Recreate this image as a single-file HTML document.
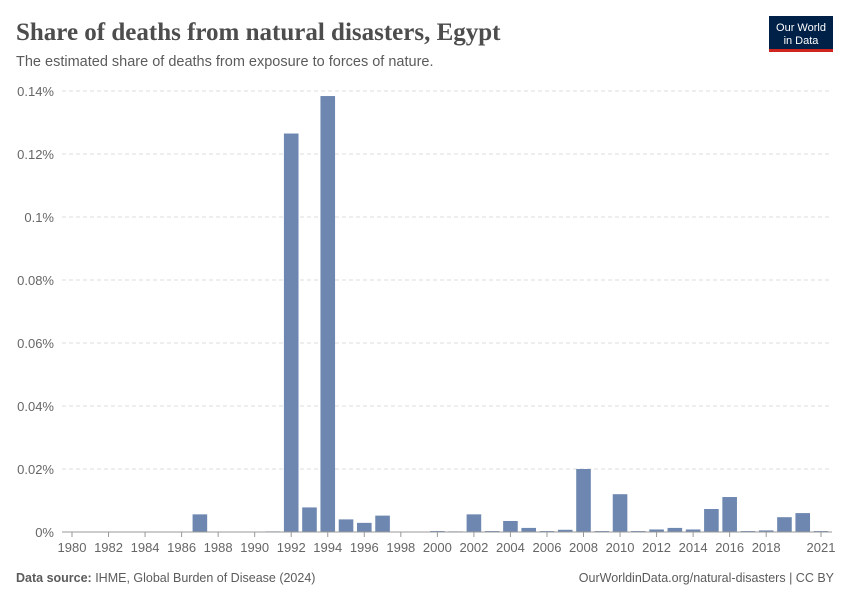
<!DOCTYPE html>
<html><head><meta charset="utf-8"><style>
body{margin:0;width:850px;height:600px;background:#fff;font-family:"Liberation Sans",sans-serif;overflow:hidden}
</style></head><body>
<svg width="850" height="600" xmlns="http://www.w3.org/2000/svg" id="chart">
<text x="16" y="40" font-family="Liberation Serif,serif" font-size="25" font-weight="bold" fill="#4d4d4d">Share of deaths from natural disasters, Egypt</text>
<text x="16" y="66" font-size="14.5" fill="#5b5b5b">The estimated share of deaths from exposure to forces of nature.</text>
<g><rect x="769" y="16" width="64" height="36" fill="#002147"/><rect x="769" y="49" width="64" height="3" fill="#ce261e"/>
<text x="801" y="31" font-size="11" fill="#fff" text-anchor="middle">Our World</text><text x="801" y="44" font-size="11" fill="#fff" text-anchor="middle">in Data</text></g>
<g id="grid"></g><g id="bars"></g><g id="xaxis"></g>
<text x="16" y="582" font-size="12.5" fill="#5b5b5b"><tspan font-weight="bold">Data source: </tspan>IHME, Global Burden of Disease (2024)</text>
<text x="834" y="582" font-size="12.5" fill="#5b5b5b" text-anchor="end">OurWorldinData.org/natural-disasters | CC BY</text>
</svg>
<script>
const years=[];for(let y=1980;y<=2021;y++)years.push(y);
const values=[0,0,0,0,0,0,0,0.0056,0,0,0,0.0002,0.1265,0.0078,0.1384,0.004,0.0029,0.0052,0,0,0.0003,0.0002,0.0056,0.0003,0.0035,0.0013,0.0003,0.0007,0.02,0.0003,0.012,0.0003,0.0008,0.0013,0.0008,0.0073,0.0111,0.0003,0.0005,0.0047,0.006,0.0003];
const yTicks=[0,0.02,0.04,0.06,0.08,0.1,0.12,0.14];
const yTickLabels=["0%","0.02%","0.04%","0.06%","0.08%","0.1%","0.12%","0.14%"];
const xTickYears=[1980,1982,1984,1986,1988,1990,1992,1994,1996,1998,2000,2002,2004,2006,2008,2010,2012,2014,2016,2018,2021];
const NS="http://www.w3.org/2000/svg";
const y0=532,y1=91,yMax=0.14;
const yS=v=>y0-(v/yMax)*(y0-y1);
const xS=yr=>72+(yr-1980)*(821-72)/41;
function mk(t,a,p){const e=document.createElementNS(NS,t);for(const k in a)e.setAttribute(k,a[k]);document.getElementById(p).appendChild(e);return e;}
yTicks.forEach((v,i)=>{
 if(v>0){const l=mk('line',{x1:62,x2:832,y1:yS(v),y2:yS(v),stroke:'#ddd','stroke-dasharray':'4,3'},'grid');
 
 }
 const t=mk('text',{x:54,y:yS(v)+5,'font-size':13,fill:'#666','text-anchor':'end'},'grid');t.textContent=yTickLabels[i];
 
 
});
years.forEach((yr,i)=>{
 if(values[i]<=0)return;
 const b=mk('rect',{x:xS(yr)-7.3,y:yS(values[i]),width:14.6,height:y0-yS(values[i]),fill:'#6d87b0'},'bars');
 
 
});
const ax=mk('line',{x1:62,x2:832,y1:y0,y2:y0,stroke:'#999'},'xaxis');


xTickYears.forEach(yr=>{
 mk('line',{x1:xS(yr),x2:xS(yr),y1:y0,y2:y0+5,stroke:'#999'},'xaxis');
 const t=mk('text',{x:xS(yr),y:552,'font-size':13,fill:'#666','text-anchor':'middle'},'xaxis');t.textContent=yr;
 
 
});
</script>
</body></html>
